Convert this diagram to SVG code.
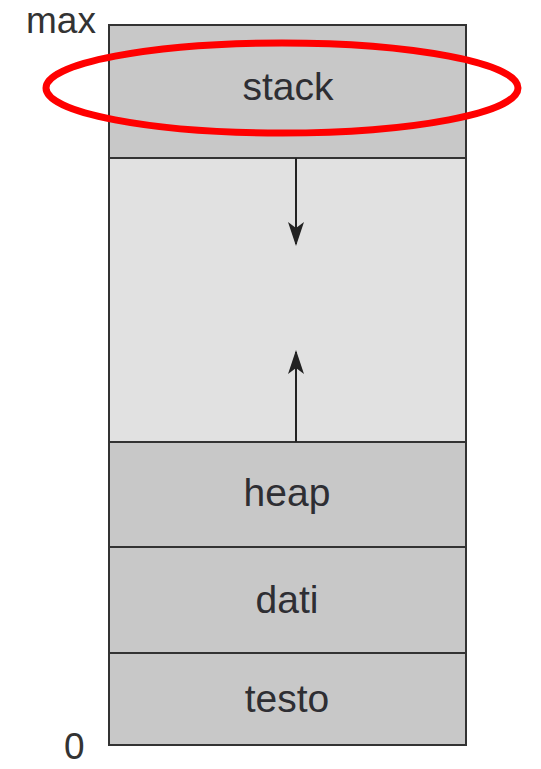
<svg xmlns="http://www.w3.org/2000/svg" width="541" height="769" viewBox="0 0 541 769">
  <style>
    .seg { stroke: #333; stroke-width: 2; }
    .dark { fill: #c8c8c8; }
    .light { fill: #e1e1e1; }
    .lbl { font-family: "Liberation Sans", Arial, sans-serif; font-size: 39px; fill: #2e2e33; text-anchor: middle; }
    .axis { font-family: "Liberation Sans", Arial, sans-serif; font-size: 37px; fill: #333; }
    .conn { stroke: #222; stroke-width: 2; fill: none; }
  </style>
  <defs>
    <!-- notched arrowhead, 24 long x 18 wide -->
    <marker id="head" viewBox="0 0 24 18" refX="22" refY="9" markerWidth="24" markerHeight="18" markerUnits="userSpaceOnUse" orient="auto">
      <path d="M0,1 L24,9 L0,17 L6,9 Z" fill="#222"/>
    </marker>
  </defs>
  <rect width="541" height="769" fill="#fff"/>

  <g id="stack">
    <rect class="seg dark" x="109" y="25" width="357" height="133"/>
    <text class="lbl" x="288" y="100">stack</text>
  </g>
  <g id="free">
    <rect class="seg light" x="109" y="158" width="357" height="284"/>
  </g>
  <g id="heap">
    <rect class="seg dark" x="109" y="442" width="357" height="105"/>
    <text class="lbl" x="287" y="506">heap</text>
  </g>
  <g id="dati">
    <rect class="seg dark" x="109" y="547" width="357" height="106"/>
    <text class="lbl" x="287" y="613">dati</text>
  </g>
  <g id="testo">
    <rect class="seg dark" x="109" y="653" width="357" height="92"/>
    <text class="lbl" x="287" y="712">testo</text>
  </g>

  <g id="connectors">
    <line class="conn" x1="296" y1="158" x2="296" y2="244" marker-end="url(#head)"/>
    <line class="conn" x1="296" y1="442" x2="296" y2="352" marker-end="url(#head)"/>
  </g>

  <text class="axis" x="26" y="33">max</text>
  <text class="axis" x="64" y="759">0</text>

  <ellipse id="highlight" cx="282" cy="88" rx="236" ry="45" fill="none" stroke="#f00" stroke-width="7"/>
</svg>
